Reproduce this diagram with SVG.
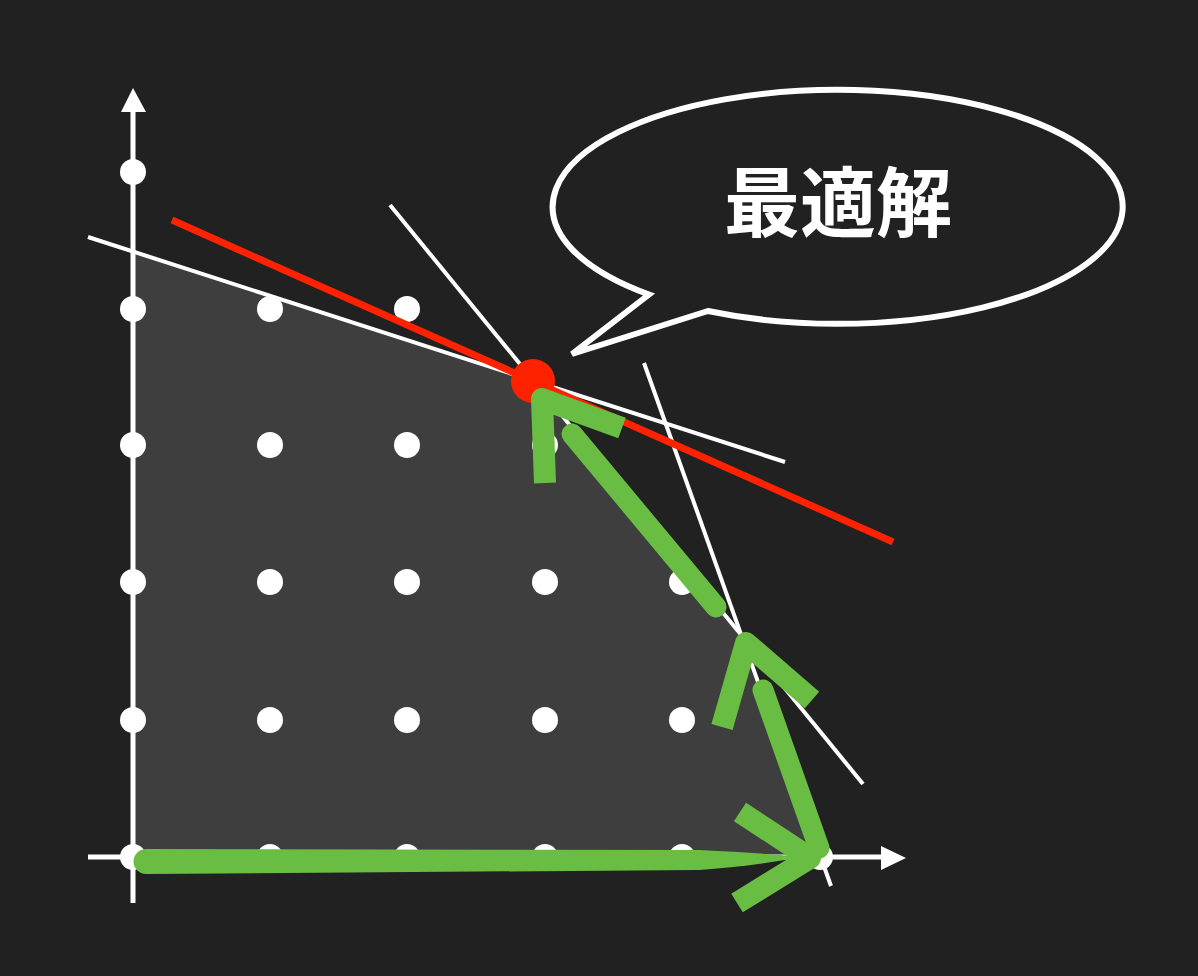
<svg xmlns="http://www.w3.org/2000/svg" width="1198" height="976" viewBox="0 0 1198 976">
<defs>
<style>
.axis{stroke:#fff;stroke-width:5;fill:none}
.thin{stroke:#fff;stroke-width:4;fill:none}
.dot{fill:#fff}
.green{stroke:#6abd43;stroke-width:21;fill:none;stroke-linecap:round;stroke-linejoin:round}
.head{stroke:#6abd43;stroke-width:22;fill:none;stroke-linecap:butt;stroke-linejoin:round}
</style>
</defs>
<rect width="1198" height="976" fill="#212121"/>
<g id="region">
<polygon points="133,857 133,251 533,380 743,637 820,857" fill="#3e3e3e"/>
</g>
<g id="axes">
<line class="axis" x1="133" y1="903" x2="133" y2="108"/>
<polygon points="133,88 121,112 146,112" fill="#fff"/>
<line class="axis" x1="88" y1="857" x2="885" y2="857"/>
<polygon points="906,858 881,846 881,870" fill="#fff"/>
</g>
<g id="constraints">
<line class="thin" x1="88" y1="237" x2="785" y2="462"/>
<line class="thin" x1="390" y1="205" x2="863" y2="784"/>
<line class="thin" x1="644" y1="363" x2="831" y2="886"/>
</g>
<g id="points">
<circle class="dot" cx="133" cy="172" r="13"/>
<circle class="dot" cx="133" cy="309" r="13"/>
<circle class="dot" cx="270" cy="309" r="13"/>
<circle class="dot" cx="407" cy="309" r="13"/>
<circle class="dot" cx="133" cy="445" r="13"/>
<circle class="dot" cx="270" cy="445" r="13"/>
<circle class="dot" cx="407" cy="445" r="13"/>
<circle class="dot" cx="545" cy="445" r="13"/>
<circle class="dot" cx="133" cy="582" r="13"/>
<circle class="dot" cx="270" cy="582" r="13"/>
<circle class="dot" cx="407" cy="582" r="13"/>
<circle class="dot" cx="545" cy="582" r="13"/>
<circle class="dot" cx="682" cy="582" r="13"/>
<circle class="dot" cx="133" cy="720" r="13"/>
<circle class="dot" cx="270" cy="720" r="13"/>
<circle class="dot" cx="407" cy="720" r="13"/>
<circle class="dot" cx="545" cy="720" r="13"/>
<circle class="dot" cx="682" cy="720" r="13"/>
<circle class="dot" cx="133" cy="857" r="13"/>
<circle class="dot" cx="270" cy="857" r="13"/>
<circle class="dot" cx="407" cy="857" r="13"/>
<circle class="dot" cx="545" cy="857" r="13"/>
<circle class="dot" cx="682" cy="857" r="13"/>
<circle class="dot" cx="820" cy="857" r="13"/>
</g>
<g id="objective">
<line x1="172" y1="220" x2="893" y2="542" stroke="#ff2200" stroke-width="7"/>
<circle cx="533" cy="381" r="22" fill="#ff2200"/>
</g>
<g id="path-arrows">
<path d="M146,849 L700,850 Q760,853 802,857 Q760,865 700,870 L146,874 A12.5,12.5 0 0 1 146,849 Z" fill="#6abd43"/>
<polyline class="head" points="740,812 810,858 737,903"/>
<line class="green" x1="819" y1="848" x2="763" y2="690"/>
<polyline class="head" points="722,727 746,643 812,700"/>
<line class="green" x1="716" y1="607" x2="572" y2="434"/>
<polyline class="head" points="545,483 542,399 622,428"/>
</g>
<g id="callout">
<path d="M708,311 A285,117 0 1 0 649,294.5 L572,354 Z" fill="#212121" stroke="#fff" stroke-width="6" stroke-linejoin="miter"/>
<text x="838" y="231" text-anchor="middle" font-family="'Noto Sans CJK JP','Noto Sans CJK SC',sans-serif" font-weight="bold" font-size="76" fill="#fff">最適解</text>
</g>
</svg>
